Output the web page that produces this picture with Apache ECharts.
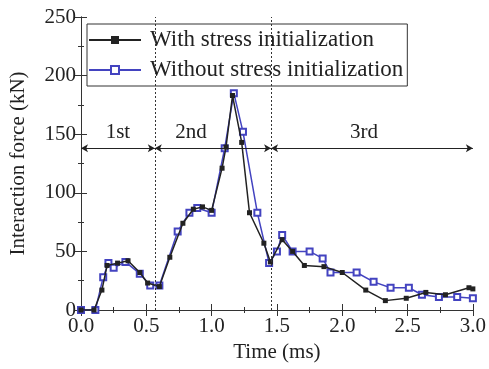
<!DOCTYPE html>
<html><head><meta charset="utf-8">
<script src="https://cdn.jsdelivr.net/npm/echarts@6/dist/echarts.min.js"></script>
<style>html,body{margin:0;padding:0;background:#fff}#c{width:489px;height:369px}</style>
</head><body><div id="c"></div>
<script>
const withStress = [[0,0],[0.1,0],[0.16,17],[0.2,38],[0.28,40],[0.36,42],[0.45,32],[0.51,23],[0.6,20],[0.68,45],[0.78,74],[0.86,86],[0.93,88],[1.0,85],[1.08,121],[1.11,139],[1.16,183],[1.23,143],[1.29,83],[1.4,57],[1.45,41],[1.54,60],[1.62,50],[1.71,38],[1.86,37],[2.0,32],[2.18,17],[2.33,8],[2.49,10],[2.64,15],[2.79,13],[2.97,19],[3.0,18]];
const withoutStress = [[0,0],[0.11,0],[0.17,28],[0.21,40],[0.25,36],[0.34,41],[0.45,31],[0.53,21],[0.6,21],[0.74,67],[0.83,83],[0.89,87],[1.0,83],[1.1,138],[1.17,185],[1.24,152],[1.35,83],[1.44,40],[1.5,50],[1.54,64],[1.62,50],[1.75,50],[1.85,44],[1.91,32],[2.11,32],[2.24,24],[2.37,19],[2.51,19],[2.61,13],[2.74,11],[2.88,11],[3.0,10]];
const stageBounds = [0, 0.565, 1.455, 3.0];
const stageLabels = ['1st', '2nd', '3rd'];
const stageLevel = 138;
const xTicks = [0, 0.5, 1.0, 1.5, 2.0, 2.5, 3.0];
const yTicks = [0, 50, 100, 150, 200, 250];

const FONT = 'Liberation Serif';
const chart = echarts.init(document.getElementById('c'));
const axisCommon = {
  axisLine: {show: true, lineStyle: {color: '#333', width: 1}},
  axisTick: {show: true, inside: true, length: 6, lineStyle: {color: '#333'}},
  minorTick: {show: true, splitNumber: 2, length: 3, lineStyle: {color: '#333'}},
  splitLine: {show: false}
};
const stageLines = [];
for (let i = 0; i < 3; i++) {
  const offs = [[0,0],[-22,0],[-8,0]][i];
  stageLines.push([
    {coord: [stageBounds[i], stageLevel], name: stageLabels[i],
     label: {show: true, position: 'middle', formatter: stageLabels[i], offset: offs,
             fontFamily: FONT, fontSize: 21, color: '#222', backgroundColor: '#fff', padding: [0, 3]}},
    {coord: [stageBounds[i + 1], stageLevel]}
  ]);
}
chart.setOption({
  animation: false,
  grid: {left: 81, right: 15, top: 17, bottom: 59, show: false},
  legend: {
    orient: 'vertical', left: 87, top: 24, itemWidth: 52, itemHeight: 10, itemGap: 4,
    borderColor: '#333', borderWidth: 1, padding: [3, 4, 3, 1], backgroundColor: '#fff',
    textStyle: {fontFamily: FONT, fontSize: 23, color: '#222', lineHeight: 26, padding: [0, 0, 0, 4]},
    data: ['With stress initialization', 'Without stress initialization']
  },
  xAxis: [
    Object.assign({type: 'value', min: 0, max: 3, interval: 0.5, name: 'Time (ms)', nameLocation: 'middle', nameGap: 31,
      nameTextStyle: {fontFamily: FONT, fontSize: 21, color: '#222'},
      axisLabel: {fontFamily: FONT, fontSize: 21, color: '#222', margin: 6, formatter: v => v.toFixed(1)}}, axisCommon),
    Object.assign({type: 'value', min: 0, max: 3, interval: 0.5, position: 'top', axisLabel: {show: false}}, axisCommon)
  ],
  yAxis: [
    Object.assign({type: 'value', min: 0, max: 250, interval: 50, name: 'Interaction force (kN)', nameLocation: 'middle', nameGap: 52,
      nameTextStyle: {fontFamily: FONT, fontSize: 21, color: '#222'},
      axisLabel: {fontFamily: FONT, fontSize: 21, color: '#222', margin: 5}}, axisCommon),
    Object.assign({type: 'value', min: 0, max: 250, interval: 50, position: 'right', axisLabel: {show: false}}, axisCommon)
  ],
  series: [
    {name: 'With stress initialization', type: 'line', data: withStress, symbol: 'rect', symbolSize: 5,
     showAllSymbol: true, color: '#222', lineStyle: {color: '#222', width: 1.5}, itemStyle: {color: '#222'}, z: 3,
     markLine: {silent: true, symbol: 'none', animation: false,
       lineStyle: {color: '#333', type: [2, 2], width: 1},
       label: {show: false},
       data: [[{coord: [stageBounds[1], 0]}, {coord: [stageBounds[1], 250]}],
              [{coord: [stageBounds[2], 0]}, {coord: [stageBounds[2], 250]}]]}},
    {name: 'Without stress initialization', type: 'line', data: withoutStress, symbol: 'emptyRect', symbolSize: 6,
     showAllSymbol: true, color: '#4343c0', lineStyle: {color: '#4343c0', width: 1.5}, itemStyle: {color: '#4343c0', borderWidth: 1}, z: 2,
     markLine: {silent: true, symbol: ['arrow', 'arrow'], symbolSize: [6, 7], animation: false,
       lineStyle: {color: '#222', type: 'solid', width: 1.2},
       data: stageLines}}
  ]
});
</script></body></html>
